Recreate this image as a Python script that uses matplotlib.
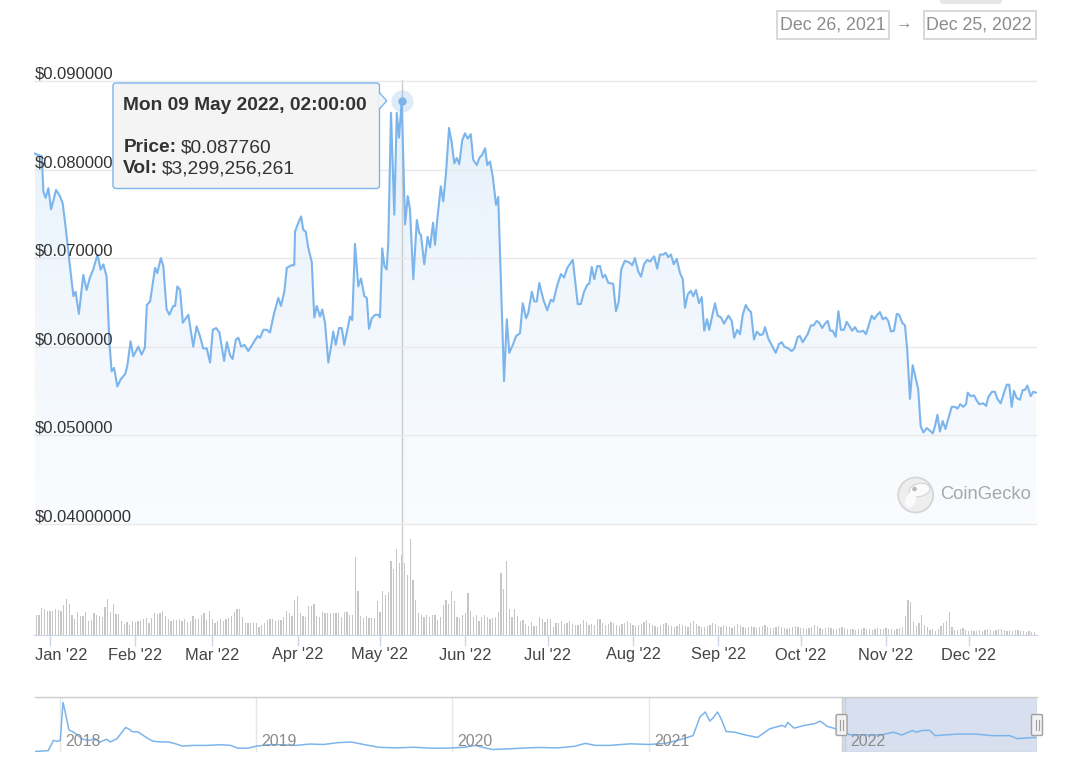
import numpy as np
import matplotlib
matplotlib.use('Agg')
import matplotlib.pyplot as plt
import matplotlib.dates as mdates
from matplotlib.patches import FancyBboxPatch, Polygon, Circle, Ellipse
from matplotlib.transforms import ScaledTranslation
from datetime import datetime

plt.rcParams['font.family'] = ['Liberation Sans', 'DejaVu Sans']

# price in USD, x = days since 2021-12-26
price_days = [0.5, 1.2, 3.0, 3.6, 4.4, 5.4, 6.4, 8.2, 9.6, 10.6, 11.8, 13.0, 14.5, 15.3, 16.5,
              18.1, 19.3, 20.5, 21.7, 23.3, 24.4, 25.4, 26.6, 27.6, 28.4, 29.3, 30.5, 31.7, 33.3,
              34.1, 35.3, 36.3, 38.1, 39.3, 40.5, 41.2, 42.4, 44.2, 45.0, 46.3, 47.2, 48.4, 49.4,
              50.8, 51.5, 52.3, 53.3, 54.3, 56.3, 58.1, 59.3, 60.5, 61.7, 63.0, 64.2, 65.2, 66.4,
              67.6, 69.3, 70.3, 71.5, 72.4, 73.6, 74.5, 75.5, 76.7, 78.1, 79.9, 81.5, 82.4, 83.6,
              84.8, 86.0, 87.2, 89.0, 90.0, 91.2, 92.1, 93.9, 94.8, 95.1, 96.3, 97.3, 98.1, 99.0,
              99.9, 101.2, 102.1, 103.0, 104.2, 105.0, 106.0, 107.2, 108.2, 109.0, 109.9, 111.1,
              112.1, 113.0, 115.1, 115.9, 116.9, 118.1, 119.1, 120.3, 121.2, 122.0, 123.0, 124.2,
              125.4, 126.0, 126.8, 127.6, 128.4, 129.0, 130.0, 131.2, 132.1, 132.9, 133.9, 135.1,
              136.1, 136.9, 138.1, 139.4, 140.2, 140.9, 142.1, 143.3, 144.2, 145.3, 146.0, 146.8,
              148.1, 149.0, 150.0, 151.1, 152.1, 153.0, 153.9, 154.8, 155.9, 156.9, 157.9, 159.0,
              159.9, 161.2, 162.1, 163.2, 164.2, 165.0, 166.0, 167.0, 168.2, 169.0, 169.9, 171.1,
              172.1, 173.0, 174.3, 175.5, 176.9, 177.9, 179.1, 179.9, 181.2, 182.1, 183.0, 183.9,
              185.4, 186.8, 188.1, 189.0, 190.5, 191.8, 192.9, 194.1, 196.1, 197.9, 199.0, 200.2,
              201.4, 202.1, 203.0, 203.9, 205.0, 206.0, 207.0, 207.9, 209.0, 210.8, 211.8, 212.8,
              213.7, 215.0, 216.7, 217.7, 218.7, 219.9, 220.9, 222.0, 223.2, 224.2, 225.7, 226.8,
              227.8, 229.0, 229.9, 230.8, 231.8, 232.8, 233.9, 235.1, 236.1, 236.9, 237.9, 239.0,
              239.9, 240.9, 242.0, 243.0, 243.9, 244.9, 245.7, 246.6, 247.8, 248.8, 250.0, 251.1,
              252.7, 253.9, 254.8, 255.9, 256.9, 257.9, 259.0, 259.9, 260.9, 262.0, 263.0, 264.2,
              265.2, 266.0, 267.2, 268.4, 269.9, 271.1, 272.1, 273.0, 274.5, 275.7, 276.7, 277.9,
              278.7, 279.7, 281.5, 282.7, 283.7, 284.8, 285.7, 286.8, 287.8, 288.8, 289.7, 290.6,
              291.7, 292.7, 293.6, 294.7, 295.7, 296.7, 297.7, 298.7, 299.7, 300.8, 301.7, 302.7,
              303.8, 304.8, 305.7, 306.8, 307.8, 308.8, 309.9, 310.8, 311.8, 312.9, 313.9, 314.8,
              315.9, 316.9, 317.7, 318.7, 319.7, 320.9, 321.7, 322.6, 323.6, 324.8, 326.0, 327.0,
              327.8, 328.7, 329.6, 330.6, 331.6, 332.4, 333.9, 335.1, 336.0, 337.0, 338.1, 339.1,
              339.7, 340.8, 342.0, 343.0, 343.9, 345.4, 346.4, 347.2, 348.5, 349.6, 350.5, 351.7,
              352.7, 353.9, 354.8, 355.7, 356.5, 357.5, 358.7, 359.7, 360.5, 361.4, 362.6, 363.5,
              364.5]
price_usd = [0.0818, 0.0817, 0.0815, 0.0775, 0.0768, 0.0779, 0.0755, 0.0777, 0.0770, 0.0762, 0.0732,
             0.0698, 0.0657, 0.0662, 0.0637, 0.0681, 0.0664, 0.0678, 0.0687, 0.0704, 0.0687, 0.0693,
             0.0679, 0.0605, 0.0572, 0.0576, 0.0555, 0.0563, 0.0569, 0.0578, 0.0606, 0.0589, 0.0600,
             0.0591, 0.0599, 0.0647, 0.0651, 0.0689, 0.0683, 0.0700, 0.0691, 0.0642, 0.0636, 0.0646,
             0.0646, 0.0668, 0.0664, 0.0627, 0.0636, 0.0600, 0.0623, 0.0612, 0.0598, 0.0598, 0.0582,
             0.0619, 0.0621, 0.0616, 0.0584, 0.0605, 0.0590, 0.0586, 0.0608, 0.0610, 0.0600, 0.0602,
             0.0595, 0.0604, 0.0612, 0.0610, 0.0619, 0.0619, 0.0616, 0.0634, 0.0655, 0.0646, 0.0662,
             0.0689, 0.0692, 0.0692, 0.0730, 0.0740, 0.0747, 0.0732, 0.0730, 0.0712, 0.0695, 0.0633,
             0.0646, 0.0634, 0.0642, 0.0627, 0.0582, 0.0600, 0.0617, 0.0602, 0.0621, 0.0621, 0.0602,
             0.0634, 0.0630, 0.0716, 0.0668, 0.0677, 0.0657, 0.0655, 0.0620, 0.0632, 0.0636, 0.0636,
             0.0633, 0.0711, 0.0691, 0.0687, 0.0717, 0.0864, 0.0749, 0.0864, 0.0836, 0.08776, 0.0738,
             0.0770, 0.0755, 0.0676, 0.0743, 0.0729, 0.0726, 0.0693, 0.0724, 0.0712, 0.0740, 0.0715,
             0.0743, 0.0781, 0.0764, 0.0796, 0.0847, 0.0830, 0.0807, 0.0813, 0.0806, 0.0833, 0.0841,
             0.0835, 0.0840, 0.0811, 0.0805, 0.0813, 0.0817, 0.0824, 0.0805, 0.0809, 0.0792, 0.0760,
             0.0769, 0.0679, 0.0561, 0.0631, 0.0593, 0.0602, 0.0612, 0.0615, 0.0649, 0.0632, 0.0638,
             0.0662, 0.0651, 0.0651, 0.0672, 0.0653, 0.0641, 0.0653, 0.0651, 0.0670, 0.0682, 0.0678,
             0.0689, 0.0698, 0.0648, 0.0648, 0.0662, 0.0670, 0.0671, 0.0690, 0.0676, 0.0691, 0.0691,
             0.0678, 0.0681, 0.0672, 0.0671, 0.0640, 0.0651, 0.0687, 0.0697, 0.0695, 0.0692, 0.0700,
             0.0685, 0.0679, 0.0693, 0.0698, 0.0696, 0.0702, 0.0688, 0.0704, 0.0704, 0.0706, 0.0701,
             0.0704, 0.0693, 0.0699, 0.0683, 0.0676, 0.0644, 0.0659, 0.0663, 0.0657, 0.0664, 0.0649,
             0.0656, 0.0618, 0.0631, 0.0619, 0.0632, 0.0649, 0.0635, 0.0633, 0.0626, 0.0635, 0.0629,
             0.0610, 0.0619, 0.0614, 0.0636, 0.0647, 0.0642, 0.0639, 0.0608, 0.0617, 0.0613, 0.0614,
             0.0622, 0.0609, 0.0602, 0.0593, 0.0603, 0.0605, 0.0600, 0.0598, 0.0595, 0.0598, 0.0611,
             0.0612, 0.0605, 0.0614, 0.0624, 0.0624, 0.0629, 0.0627, 0.0621, 0.0626, 0.0629, 0.0618,
             0.0618, 0.0611, 0.0640, 0.0619, 0.0619, 0.0628, 0.0623, 0.0618, 0.0622, 0.0617, 0.0617,
             0.0618, 0.0614, 0.0625, 0.0635, 0.0631, 0.0636, 0.0639, 0.0631, 0.0633, 0.0629, 0.0617,
             0.0618, 0.0637, 0.0636, 0.0627, 0.0624, 0.0597, 0.0541, 0.0579, 0.0563, 0.0552, 0.0510,
             0.0503, 0.0508, 0.0505, 0.0502, 0.0510, 0.0523, 0.0504, 0.0516, 0.0507, 0.0516, 0.0532,
             0.0532, 0.0530, 0.0535, 0.0532, 0.0535, 0.0548, 0.0544, 0.0545, 0.0539, 0.0535, 0.0536,
             0.0533, 0.0543, 0.0549, 0.0549, 0.0541, 0.0536, 0.0546, 0.0557, 0.0557, 0.0532, 0.0550,
             0.0542, 0.0540, 0.0551, 0.0551, 0.0556, 0.0544, 0.0549, 0.0548]

# daily volume, one bar per day from 2021-12-26 (relative heights)
volume = [24, 20, 20, 27, 26, 24, 24, 24, 26, 25, 24, 30, 36, 31, 20, 16, 23, 19, 19, 23,
          14, 15, 22, 20, 19, 18, 28, 36, 23, 31, 21, 21, 14, 11, 13, 10, 14, 13, 14, 14,
          16, 17, 12, 17, 22, 21, 22, 24, 19, 16, 14, 15, 15, 16, 14, 16, 13, 14, 19, 16,
          16, 20, 22, 15, 24, 16, 12, 14, 16, 14, 16, 17, 19, 23, 26, 26, 18, 12, 12, 12,
          12, 12, 8, 10, 12, 15, 16, 16, 14, 15, 15, 18, 24, 22, 19, 35, 39,
          22, 19, 18, 29, 29, 31, 19, 18, 23, 22, 22, 22, 22, 22, 22, 18, 23, 23, 20, 20,
          78, 44, 19, 17, 19, 17, 17, 17, 34, 23, 44, 40, 43, 74, 66, 86, 72, 80, 72, 60,
          96, 55, 35, 22, 20, 18, 20, 18, 20, 20, 15, 18, 30, 35, 31, 44, 34, 18, 17, 20,
          22, 42, 24, 18, 20, 14, 18, 20, 18, 16, 17, 18, 23, 62, 46, 74, 26, 18, 26, 19,
          14, 15, 11, 9, 13, 9, 9, 18, 16, 13, 16, 16, 8, 12, 12, 14, 11, 12, 14, 11,
          10, 10, 11, 15, 13, 10, 11, 10, 16, 16,
          12, 10, 11, 13, 12, 10, 9, 11, 12, 14, 12, 10, 9, 10, 11, 13, 15, 12, 10, 9, 8, 10, 11, 12,
          10, 9, 8, 9, 11, 10, 9, 8, 12, 14, 11, 9, 8, 8, 9, 10, 12, 11, 9, 8, 10, 9, 8, 7, 9, 11, 10, 8, 7, 8,
          9, 8, 7, 8, 9, 10, 8, 7, 7, 8, 9, 8, 7, 6, 7, 8, 9, 8, 7, 7, 6, 7, 8, 10, 9, 7, 6, 7, 8, 7, 6, 6, 7, 8, 7, 6,
          6, 6, 5, 6, 6, 7, 6, 6, 5, 6, 7, 6, 6, 7, 6, 6, 5, 6, 7, 8,
          19, 35, 33, 13, 9, 12, 20, 10, 8, 5, 6, 4, 6, 9, 12, 14, 23, 8, 5, 5, 6, 7, 5,
          4, 5, 4, 4, 5, 4, 5, 6, 5, 4, 5, 6, 6, 5, 4, 5, 4, 5, 5, 4, 4, 3, 4, 3, 3]

# navigator: whole history, days since 2018-01-01
nav_days = [-50, -22.5, -12.8, -6.5, 0, 5, 9.5, 16, 23.6, 32, 41.7, 54.4, 64, 73.7, 86.6, 92.9,
            105.8, 115.4, 121.8, 128.3, 134.6, 144.3, 153.8, 163.5, 173.2, 189.2, 202, 214.7,
            227.5, 246.9, 272.4, 298.1, 317.3, 330.1, 349.5, 365.5, 387.9, 413.5, 439.2, 464.9,
            490.5, 516.2, 541.8, 567.5, 593, 625.3, 657.3, 689.3, 721.3, 753.4, 772.7, 785.6,
            804.8, 836.8, 868.8, 893.2, 925.6, 958, 977.6, 996.9, 1022.8, 1061.7, 1096.2, 1126.7,
            1152.6, 1178.5, 1191.5, 1201.2, 1209.6, 1216.1, 1223.9, 1230.4, 1240.1, 1256.3, 1275.7,
            1298.4, 1321.1, 1343.8, 1350.3, 1354.8, 1366.5, 1385.9, 1405.3, 1415.1, 1428.2, 1444.3,
            1470.2, 1502.6, 1528.5, 1551.2, 1567.4, 1587, 1593.3, 1606.4, 1619.4, 1629.1, 1671.2,
            1703.7, 1736.2, 1768.3, 1781.4, 1816.8]
nav_price = [0.0038, 0.008, 0.053, 0.049, 0.053, 0.22, 0.175, 0.099, 0.091, 0.076, 0.058, 0.053,
             0.061, 0.046, 0.058, 0.046, 0.061, 0.091, 0.110, 0.102, 0.091, 0.091, 0.076, 0.061,
             0.049, 0.046, 0.046, 0.038, 0.028, 0.031, 0.031, 0.034, 0.031, 0.019, 0.019, 0.028,
             0.034, 0.034, 0.031, 0.037, 0.035, 0.043, 0.046, 0.034, 0.023, 0.020, 0.023, 0.019,
             0.019, 0.023, 0.031, 0.023, 0.013, 0.016, 0.020, 0.022, 0.020, 0.027, 0.040, 0.031,
             0.031, 0.038, 0.035, 0.040, 0.055, 0.074, 0.157, 0.178, 0.138, 0.153, 0.178, 0.150,
             0.092, 0.089, 0.077, 0.066, 0.104, 0.119, 0.112, 0.132, 0.107, 0.119, 0.127, 0.138,
             0.115, 0.104, 0.078, 0.077, 0.077, 0.089, 0.077, 0.097, 0.089, 0.097, 0.097, 0.074,
             0.081, 0.081, 0.074, 0.074, 0.061, 0.066]

month_labels = ["Jan '22", "Feb '22", "Mar '22", "Apr '22", "May '22", "Jun '22",
                "Jul '22", "Aug '22", "Sep '22", "Oct '22", "Nov '22", "Dec '22"]
price_ticks = [0.04, 0.05, 0.06, 0.07, 0.08, 0.09]
price_tick_labels = ['$0.04000000', '$0.050000', '$0.060000', '$0.070000', '$0.080000', '$0.090000']
year_labels = ['2018', '2019', '2020', '2021', '2022']

hover_day = 133.9
hover_price = 0.08776
tooltip_title = 'Mon 09 May 2022, 02:00:00'
tooltip_price = '$0.087760'
tooltip_vol = '$3,299,256,261'
range_from = 'Dec 26, 2021'
range_to = 'Dec 25, 2022'

W, H = 1086, 784
LINE = '#7cb5ec'


def px_box(l, t, r, b):
    return [l / W, 1 - b / H, (r - l) / W, (b - t) / H]


fig = plt.figure(figsize=(W / 100, H / 100), dpi=100)
fig.patch.set_facecolor('white')

t0 = mdates.date2num(datetime(2021, 12, 26))
xs = t0 + np.array(price_days)
ps = np.array(price_usd)

ax = fig.add_axes(px_box(34, 80, 1037, 635))
ax_vol = ax.twinx()
ax.set_zorder(2)
ax.patch.set_visible(False)
ax_vol.set_zorder(1)

# volume bars
ax_vol.bar(t0 + np.arange(len(volume)), volume, width=0.48, color='#c6c6c6', linewidth=0)
ax_vol.set_ylim(0, 555)
ax_vol.axis('off')

# gradient area under the price line, down to 0.04
ybase = 0.04
poly = Polygon(np.column_stack([np.r_[xs, xs[-1], xs[0]], np.r_[ps, ybase, ybase]]),
               closed=True, facecolor='none', edgecolor='none')
ax.add_patch(poly)
grad = np.zeros((256, 1, 4))
grad[..., 0], grad[..., 1], grad[..., 2] = 124 / 255, 181 / 255, 236 / 255
grad[:, 0, 3] = np.linspace(0.04, 0.19, 256)
img = ax.imshow(grad, extent=[xs[0], xs[-1], ybase, 0.09], origin='lower', aspect='auto',
                zorder=1, interpolation='bilinear')
img.set_clip_path(poly)

hover_x = t0 + hover_day
ax.axvline(hover_x, color='#cccccc', lw=1, zorder=1.5)
ax.plot(xs, ps, color=LINE, lw=1.5, zorder=3, solid_joinstyle='round')
ax.plot(hover_x, hover_price, 'o', ms=16, color=LINE, alpha=0.25, mec='none', zorder=4, clip_on=False)
ax.plot(hover_x, hover_price, 'o', ms=6, color=LINE, mec='none', zorder=5, clip_on=False)

ax.set_xlim(t0 + 0.18, t0 + 364.9)
ax.set_ylim(0.09 - 555 / 8870, 0.09 + 1 / 8870)
ax.set_yticks(price_ticks)
ax.yaxis.grid(True, color='#e9e9e9', lw=1)
ax.tick_params(axis='y', length=0, labelleft=False)
for v, s in zip(price_ticks, price_tick_labels):
    ax.annotate(s, xy=(0, v), xycoords=('axes fraction', 'data'), xytext=(1, 2.5),
                textcoords='offset pixels', ha='left', va='baseline', fontsize=12,
                color='#333333', parse_math=False, annotation_clip=False)

ax.set_xticks(mdates.date2num([datetime(2022, m, 1) for m in range(1, 13)]))
ax.set_xticklabels(month_labels)
ax.tick_params(axis='x', colors='#ccd6eb', length=8, width=1, labelcolor='#444444',
               labelsize=11.8, pad=1)
first = ax.get_xticklabels()[0]
first.set_ha('left')
first.set_transform(first.get_transform() + ScaledTranslation(-0.155, 0, fig.dpi_scale_trans))
for side in ['top', 'left', 'right']:
    ax.spines[side].set_visible(False)
ax.spines['bottom'].set_color('#ccd6eb')

# navigator
n0 = mdates.date2num(datetime(2018, 1, 1))
nav = fig.add_axes(px_box(35, 697, 1037, 752))
nav.plot(n0 + np.array(nav_days), nav_price, color=LINE, lw=1.1)
nav.set_xlim(n0 - 47.1, n0 + 1819)
nav.set_ylim(0.002, 0.244)
years = mdates.date2num([datetime(int(y), 1, 1) for y in year_labels])
for yx, lab in zip(years, year_labels):
    nav.axvline(yx, color='#e6e6e6', lw=1, zorder=0)
    nav.annotate(lab, xy=(yx, 0), xycoords=('data', 'axes fraction'), xytext=(5, 5.5),
                 textcoords='offset pixels', ha='left', va='baseline', fontsize=11.5, color='#8c8c8c')
m0, m1 = t0, t0 + 364
nav.axvspan(m0, m1, facecolor=(102 / 255, 133 / 255, 194 / 255, 0.25), edgecolor='#cccccc', lw=1)
nav.plot([0, 1], [1, 1], transform=nav.transAxes, color='#cccccc', lw=1, clip_on=False)
nav.axis('off')

# overlay for the ui pieces (pixel coordinates, y down)
over = fig.add_axes([0, 0, 1, 1], zorder=10)
over.set_xlim(0, W)
over.set_ylim(H, 0)
over.axis('off')

# navigator handles
for mx in (m0, m1):
    hx = nav.transData.transform((mx, 0.1))[0]
    over.add_patch(FancyBboxPatch((hx - 5.5, 714.5), 11, 21, boxstyle='round,pad=0,rounding_size=1.5',
                                  fc='#f2f2f2', ec='#a0a0a0', lw=1))
    for dx in (-1.5, 1.5):
        over.plot([hx + dx, hx + dx], [720, 730], color='#a0a0a0', lw=0.8)

# date range inputs
for x0_, txt in ((777, range_from), (923.5, range_to)):
    over.add_patch(FancyBboxPatch((x0_, 11), 112 if txt == range_from else 112.5, 27.5,
                                  boxstyle='square,pad=0', fc='white', ec='#d6d6d6', lw=1.3))
    over.text(x0_ + 2.5, 24.8, txt, fontsize=12.8, color='#8c8c8c', va='center', ha='left')
over.text(904, 24.5, '\u2192', fontsize=12, color='#8c8c8c', va='center', ha='center')
over.add_patch(FancyBboxPatch((940, -6), 62, 10, boxstyle='round,pad=0,rounding_size=3',
                              fc='#e6e6e6', ec='none'))

# CoinGecko watermark
over.add_patch(Circle((915.7, 495), 17.5, fc='#eeeeee', ec='#d4d4d4', lw=1.2))
over.add_patch(Ellipse((919.5, 490), 21, 13, angle=-12, fc='#fbfbfb', ec='#d4d4d4', lw=0.8))
over.add_patch(Ellipse((910.5, 500), 10, 16, angle=20, fc='#fbfbfb', ec='none'))
over.add_patch(Circle((914.5, 489), 2.3, fc='#bbbbbb', ec='none'))
over.text(940, 494, 'CoinGecko', fontsize=13.2, color='#a8a8a8', va='center', ha='left')

# tooltip
mx_px, my_px = ax.transData.transform((hover_x, hover_price))
tip_x, tip_y = mx_px - 15, H - my_px
bl, bt, br, bb = 113, 83, 379.5, 188.5
over.add_patch(FancyBboxPatch((bl, bt), br - bl, bb - bt, boxstyle='round,pad=0,rounding_size=3',
                              fc='#f4f4f4', ec=LINE, lw=1))
over.add_patch(Polygon([(br - 0.9, tip_y - 8), (tip_x, tip_y), (br - 0.9, tip_y + 8)],
                       closed=True, fc='#f4f4f4', ec='none'))
over.plot([br, tip_x, br], [tip_y - 8, tip_y, tip_y + 8], color=LINE, lw=1)
over.text(123.3, 110, tooltip_title, fontsize=13.8, fontweight='bold', color='#333333', va='baseline')
over.text(123.3, 152.3, 'Price:', fontsize=13.8, fontweight='bold', color='#333333', va='baseline')
over.text(181, 152.3, tooltip_price, fontsize=13.8, color='#333333', va='baseline', parse_math=False)
over.text(123.3, 173.3, 'Vol:', fontsize=13.8, fontweight='bold', color='#333333', va='baseline')
over.text(162, 173.3, tooltip_vol, fontsize=13.8, color='#333333', va='baseline', parse_math=False)

fig.savefig('out.png', dpi=100)
